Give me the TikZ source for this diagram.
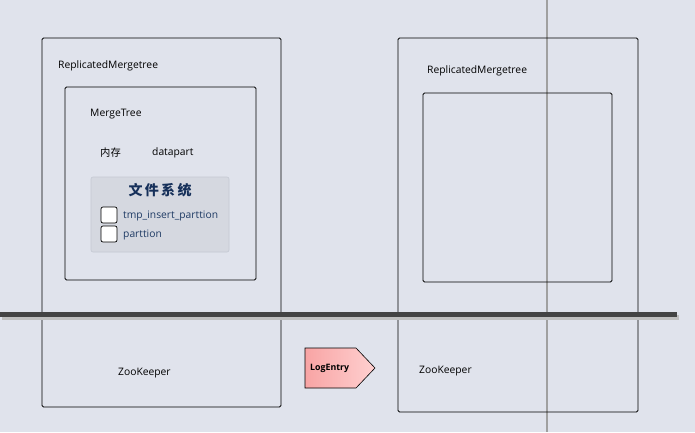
\documentclass[tikz,border=0pt]{standalone}
\usepackage{fontspec}
\setmainfont{Open Sans}
\newfontfamily\cjk{Noto Sans CJK SC}
\definecolor{bg}{RGB}{224,227,236}
\definecolor{fsbg}{RGB}{213,216,224}
\definecolor{fsborder}{RGB}{196,200,210}
\definecolor{navy}{RGB}{22,48,90}
\definecolor{linkblue}{RGB}{30,58,100}
\definecolor{bar}{RGB}{68,68,68}
\definecolor{vline}{RGB}{160,160,160}
\definecolor{pinkL}{RGB}{248,164,164}
\definecolor{pinkR}{RGB}{255,208,208}
\begin{document}
\begin{tikzpicture}[x=1pt,y=-1pt,
  box/.style={draw=black,line width=0.8pt,rounded corners=1.5pt},
  lbl/.style={anchor=west,inner sep=0pt,font=\fontsize{10.3}{12}\selectfont},
  chk/.style={draw=black,fill=white,line width=0.7pt,rounded corners=2pt},
  fstext/.style={anchor=west,inner sep=0pt,text=linkblue,font=\fontsize{10.3}{12}\selectfont}]
\fill[bg] (0,0) rectangle (695,432);
\useasboundingbox (0,0) rectangle (695,432);
% vertical line
\draw[vline,line width=1.6pt] (547,0) -- (547,432);
% left replicated box
\draw[box] (42,38) rectangle (281,407);
\node[lbl] (rm1) at (58,66) {ReplicatedMergetree};
\draw[box] (65,87) rectangle (256,280);
\node[lbl] (mt) at (90,114) {MergeTree};
\node[lbl] (mem) at (100,153) {\cjk 内存};
\node[lbl] (dp) at (152,153) {datapart};
% file system box
\draw[fill=fsbg,draw=fsborder,line width=0.6pt,rounded corners=2pt] (91,177) rectangle (229,252);
\node[inner sep=0pt,text=navy,font=\cjk\bfseries\fontsize{14}{16}\selectfont] (fs) at (160,190.5) {文\,件\,系\,统};
\draw[chk] (101,207) rectangle (117,223);
\draw[chk] (101,226) rectangle (117,242);
\node[fstext] (tmp) at (123,216) {tmp\_insert\_parttion};
\node[fstext] (pt) at (123,235) {parttion};
% right replicated box
\draw[box] (398,38) rectangle (638,412);
\node[lbl] (rm2) at (427,71) {ReplicatedMergetree};
\draw[box] (423,93) rectangle (612,282);
% horizontal bar
\draw[black!25,line width=5pt] (2,317) -- (679,317);
\draw[bar,line width=5pt] (0,314) -- (677,314);
% zookeeper labels
\node[lbl] (zk1) at (118,373) {ZooKeeper};
\node[lbl] (zk2) at (419,371) {ZooKeeper};
% LogEntry
\draw[left color=pinkL,right color=pinkR,draw=black,line width=0.6pt] (305,348) -- (356,348) -- (375,368) -- (356,388) -- (305,388) -- cycle;
\node[lbl,font=\bfseries\fontsize{8.8}{10}\selectfont] (le) at (310,368.5) {LogEntry};
\end{tikzpicture}
\end{document}
